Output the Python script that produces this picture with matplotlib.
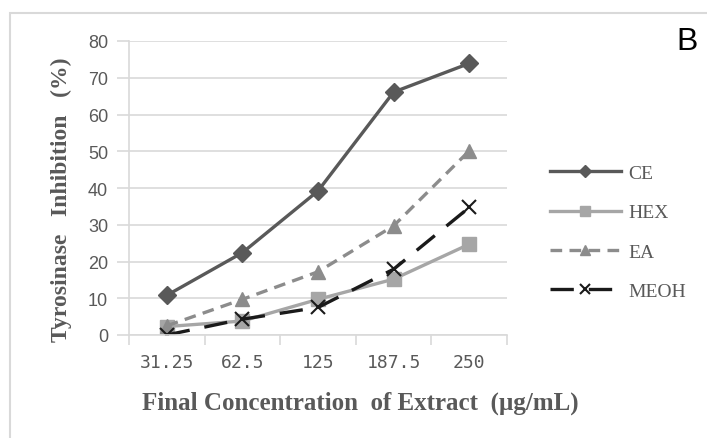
import matplotlib
matplotlib.use("Agg")
import matplotlib.pyplot as plt
from matplotlib.patches import Rectangle

# concentrations (ug/mL) and % inhibition per extract
concentrations = ["31.25", "62.5", "125", "187.5", "250"]
ce = [10.8, 22.4, 39.2, 66.1, 73.9]
hex_ = [2.3, 3.8, 9.7, 15.2, 24.7]
ea = [2.5, 9.7, 17.2, 29.7, 50.1]
meoh = [0.0, 4.3, 7.5, 17.9, 34.7]

grid_col = "#d9d9d9"
txt_col = "#595959"

fig = plt.figure(figsize=(7.07, 4.39), dpi=100)
ax = fig.add_axes([129/707, 1 - 336/439, 378/707, 294/439])

x = range(len(concentrations))
ax.plot(x, ce, color="#595959", lw=2.4, marker="D", ms=9, label="CE")
ax.plot(x, hex_, color="#a6a6a6", lw=2.4, marker="s", ms=10, label="HEX")
ax.plot(x, ea, color="#8c8c8c", lw=2.4, ls=(0, (3.5, 2.2)), marker="^", ms=10, label="EA")
ax.plot(x, meoh, color="#1a1a1a", lw=2.4, ls=(0, (7, 4.5)), marker="x", ms=10, mew=1.5, label="MEOH")

ax.set_xlim(-0.5, 4.5)
ax.set_ylim(0, 80)
ax.set_yticks(range(0, 81, 10))
ax.set_xticks(x)
ax.set_xticklabels(concentrations, family="DejaVu Sans Mono", fontsize=13, color=txt_col)
ax.set_xticks([i - 0.5 for i in range(len(concentrations) + 1)], minor=True)
ax.tick_params(axis="x", which="major", length=0, pad=13)
ax.tick_params(axis="x", which="minor", length=7, color=grid_col, width=1.2, direction="out")
ax.tick_params(axis="y", length=9, color=grid_col, width=1.2, labelsize=13, labelcolor=txt_col, pad=6)
for lbl in ax.get_yticklabels():
    lbl.set_family("Liberation Sans")
ax.grid(axis="y", color=grid_col, lw=1.2)
ax.set_axisbelow(True)
for s in ["top", "right"]:
    ax.spines[s].set_visible(False)
for s in ["left", "bottom"]:
    ax.spines[s].set_color(grid_col)
    ax.spines[s].set_linewidth(1.2)

ax.set_ylabel("Tyrosinase   Inhibition   (%)", family="Liberation Serif", fontweight="bold",
              fontsize=17, color=txt_col, va="center")
ax.yaxis.set_label_coords((61 - 129) / 378, (336 - 200) / 294)
ax.set_xlabel("Final Concentration  of Extract  (\u00b5g/mL)", family="Liberation Serif",
              fontweight="bold", fontsize=18, color=txt_col, va="center")
ax.xaxis.set_label_coords((360 - 129) / 378, (336 - 403) / 294)

leg = fig.legend(loc="upper left", bbox_to_anchor=(532/707, 1 - 148/439), frameon=False,
                 prop={"family": "Liberation Serif", "size": 14}, handlelength=3.7,
                 labelspacing=1.11, handletextpad=0.35, markerscale=0.7)
for t in leg.get_texts():
    t.set_color(txt_col)

fig.text(687/707, 1 - 42/439, "B", family="Liberation Sans", fontsize=23, ha="center", va="center")

fig.patches.append(Rectangle((10/707, -0.1), 1.2, 1.1 - 14/439, transform=fig.transFigure,
                             fill=False, edgecolor=grid_col, lw=1.5))

fig.savefig("out.png", dpi=100)
